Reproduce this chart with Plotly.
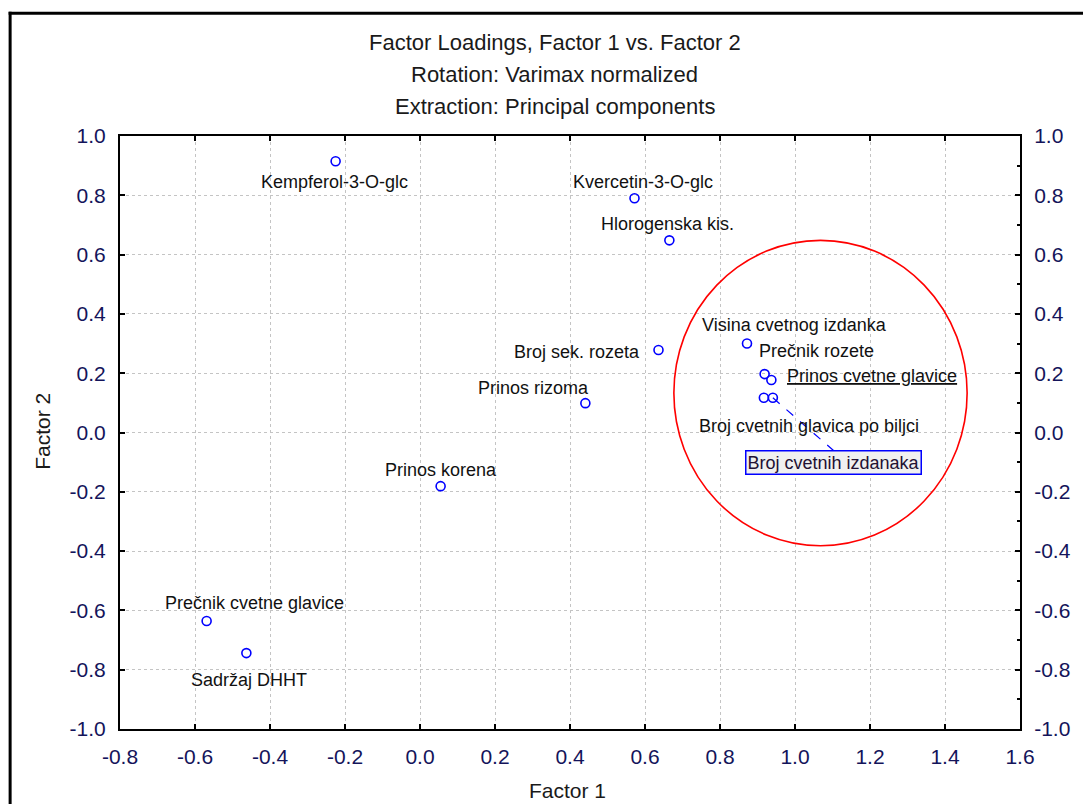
import plotly.graph_objects as go

# ---------------- data ----------------
variables = [
    "Kempferol-3-O-glc", "Kvercetin-3-O-glc", "Hlorogenska kis.", "Broj sek. rozeta",
    "Prinos rizoma", "Prinos korena", "Prečnik cvetne glavice", "Sadržaj DHHT",
    "Prečnik rozete", "Visina cvetnog izdanka", "Prinos cvetne glavice",
    "Broj cvetnih glavica po biljci", "Broj cvetnih izdanaka",
]
factor1 = [-0.225, 0.572, 0.665, 0.636, 0.441, 0.055, -0.569, -0.463,
           0.872, 0.919, 0.937, 0.917, 0.941]
factor2 = [0.915, 0.790, 0.648, 0.278, 0.099, -0.181, -0.636, -0.744,
           0.300, 0.197, 0.177, 0.117, 0.117]

x_ticks = [-0.8, -0.6, -0.4, -0.2, 0.0, 0.2, 0.4, 0.6, 0.8, 1.0, 1.2, 1.4, 1.6]
x_tick_text = ["-0.8", "-0.6", "-0.4", "-0.2", "0.0", "0.2", "0.4", "0.6", "0.8",
               "1.0", "1.2", "1.4", "1.6"]
y_ticks = [-1.0, -0.8, -0.6, -0.4, -0.2, 0.0, 0.2, 0.4, 0.6, 0.8, 1.0]
y_tick_text = ["-1.0", "-0.8", "-0.6", "-0.4", "-0.2", "0.0", "0.2", "0.4", "0.6",
               "0.8", "1.0"]

title_lines = ["Factor Loadings, Factor 1 vs. Factor 2",
               "Rotation: Varimax normalized",
               "Extraction: Principal components"]

# highlighted group (circle) bounds in factor space
circle_f1 = [0.677, 1.459]
circle_f2 = [-0.382, 0.648]

# ---------------- label placement (pixels) ----------------
# (xanchor, dx, dy) with dy positive downward
label_pos = [
    ("center", -1, 21), ("center", 8, -16), ("center", -2, -16), ("right", -17, 2),
    ("center", -52, -15), ("center", 0, -16), ("center", 48, -18), ("center", 3, 27),
    ("left", 10, 7), ("center", 30, -49), ("left", 14, -4),
    ("center", 45, 28), ("center", 61, 65),
]

FONT = "Liberation Sans, Arial, sans-serif"
TICKCOL = "#14145a"
BLUE = "#0000ff"

# page body has an 8px margin; compensate so the figure lands where the reference is
OFF = 8
W, H = 1091 - OFF, 804 - OFF
L, R, T, B = 119.5 - OFF, 70.5, 135.7 - OFF, 75.0
PW, PH = W - L - R, H - T - B
XR = [-0.8, 1.6]
YR = [-1.0, 1.0]
PX_PER_X = PW / (XR[1] - XR[0])
PX_PER_Y = PH / (YR[1] - YR[0])


def px_to_paper_x(px):
    return (px - OFF - L) / PW


def px_to_paper_y(py):
    return (H - B - (py - OFF)) / PH


fig = go.Figure()
fig.add_trace(go.Scatter(
    x=factor1, y=factor2, mode="markers",
    marker=dict(symbol="circle-open", size=9, color=BLUE, line=dict(width=1.6, color=BLUE)),
    hovertext=variables, hoverinfo="text", showlegend=False,
))
# invisible trace to bring the right axis to life
fig.add_trace(go.Scatter(x=factor1, y=factor2, yaxis="y2", mode="markers",
                         marker=dict(opacity=0), hoverinfo="skip", showlegend=False))

annotations = []
for name, fx, fy, (anc, dx, dy) in zip(variables, factor1, factor2, label_pos):
    boxed = name == "Broj cvetnih izdanaka"
    txt = f"<u>{name}</u>" if name == "Prinos cvetne glavice" else name
    ann = dict(x=fx, y=fy, xref="x", yref="y", text=txt, showarrow=False,
               xanchor=anc, yanchor="middle", xshift=dx, yshift=-dy,
               font=dict(family=FONT, size=18, color="#111111"))
    if boxed:
        ann.update(bordercolor=BLUE, borderwidth=1.5, bgcolor="#f0f0f0", borderpad=1,
                   font=dict(family=FONT, size=18, color="#221133"))
    annotations.append(ann)

shapes = []
# dashed leader line for boxed label
bi = variables.index("Broj cvetnih izdanaka")
_, bdx, bdy = label_pos[bi]
shapes.append(dict(type="line", xref="x", yref="y",
                   x0=factor1[bi], y0=factor2[bi],
                   x1=factor1[bi] + bdx / PX_PER_X, y1=factor2[bi] - (bdy - 12) / PX_PER_Y,
                   line=dict(color=BLUE, width=1.2, dash="dash")))
# red circle
shapes.append(dict(type="circle", xref="x", yref="y",
                   x0=circle_f1[0], x1=circle_f1[1], y0=circle_f2[0], y1=circle_f2[1],
                   line=dict(color="#ff0000", width=1.6)))
# outer frame: top and left edges (others fall outside the picture)
shapes.append(dict(type="line", xref="paper", yref="paper",
                   x0=px_to_paper_x(8), x1=px_to_paper_x(1091),
                   y0=px_to_paper_y(13), y1=px_to_paper_y(13),
                   line=dict(color="black", width=3), layer="below"))
shapes.append(dict(type="line", xref="paper", yref="paper",
                   x0=px_to_paper_x(9.5), x1=px_to_paper_x(9.5),
                   y0=px_to_paper_y(11.5), y1=px_to_paper_y(804),
                   line=dict(color="black", width=3), layer="below"))

# titles
for i, line in enumerate(title_lines):
    ypx = 42 + 32 * i
    annotations.append(dict(x=px_to_paper_x(554.5), y=px_to_paper_y(ypx), xref="paper", yref="paper",
                            text=line, showarrow=False, xanchor="center", yanchor="middle",
                            font=dict(family=FONT, size=22, color="#1a1a1a")))
# axis titles
annotations.append(dict(x=px_to_paper_x(567), y=px_to_paper_y(791), xref="paper", yref="paper",
                        text="Factor 1", showarrow=False, xanchor="center", yanchor="middle",
                        font=dict(family=FONT, size=21, color="#1a1a1a")))
annotations.append(dict(x=px_to_paper_x(42), y=px_to_paper_y(431), xref="paper", yref="paper",
                        text="Factor 2", showarrow=False, xanchor="center", yanchor="middle",
                        textangle=-90, font=dict(family=FONT, size=21, color="#1a1a1a")))

axis_common = dict(showline=True, linecolor="black", linewidth=2, ticks="inside", ticklen=5,
                   tickcolor="black", tickwidth=1.5, zeroline=False,
                   tickfont=dict(family=FONT, size=21, color=TICKCOL))

fig.update_layout(
    width=W, height=H, autosize=False,
    margin=dict(l=L, r=R, t=T, b=B),
    paper_bgcolor="white", plot_bgcolor="white",
    xaxis=dict(range=XR, tickvals=x_ticks, ticktext=x_tick_text, mirror="ticks",
               showgrid=True, gridcolor="#c4c4c4", griddash="dot", gridwidth=1,
               ticklabelstandoff=8, **axis_common),
    yaxis=dict(range=YR, tickvals=y_ticks, ticktext=y_tick_text,
               showgrid=True, gridcolor="#c4c4c4", griddash="dot", gridwidth=1,
               ticklabelstandoff=8, **axis_common),
    yaxis2=dict(range=YR, tickvals=y_ticks, ticktext=y_tick_text, overlaying="y", side="right",
                showgrid=False, ticklabelstandoff=8,
                minor=dict(ticks="inside", ticklen=3, tickcolor="black", dtick=0.1, tick0=0,
                           showgrid=False),
                **axis_common),
    annotations=annotations, shapes=shapes,
    showlegend=False,
)

fig.write_html("out.html")
